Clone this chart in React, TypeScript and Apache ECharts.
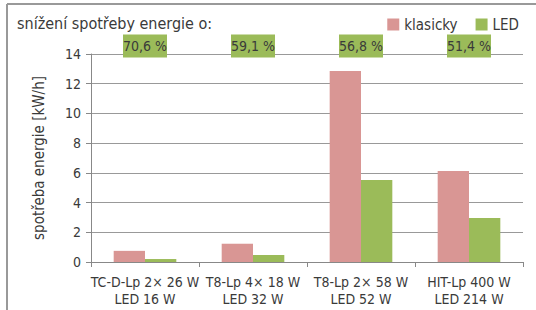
import React, { useEffect, useRef } from "react";
import * as echarts from "echarts";

const categories = ["TC-D-Lp 2× 26 W\nLED 16 W", "T8-Lp 4× 18 W\nLED 32 W", "T8-Lp 2× 58 W\nLED 52 W", "HIT-Lp 400 W\nLED 214 W"];
const klasicky = [0.75, 1.23, 12.85, 6.12];
const led = [0.2, 0.47, 5.52, 2.96];
const savings = ["70,6 %", "59,1 %", "56,8 %", "51,4 %"];
const yTicks = [0, 2, 4, 6, 8, 10, 12, 14];

const FONT = "'Liberation Sans Narrow', 'DejaVu Sans Condensed', Roboto, sans-serif";
const TXT = "#3a3a3a";

export default function App() {
  const ref = useRef<HTMLDivElement>(null);
  useEffect(() => {
    if (!ref.current) return;
    const chart = echarts.init(ref.current, undefined, { renderer: "svg" });
    chart.setOption({
      animation: false,
      backgroundColor: "#fff",
      textStyle: { fontFamily: FONT, color: TXT },
      graphic: [
        { type: "line", shape: { x1: 7, y1: 4, x2: 536, y2: 4 }, style: { stroke: "#999", lineWidth: 2 } },
        { type: "line", shape: { x1: 7, y1: 4, x2: 7, y2: 310 }, style: { stroke: "#999", lineWidth: 2 } },
      ],
      title: {
        text: "snížení spotřeby energie o:",
        left: 12,
        top: 10,
        textStyle: { fontFamily: FONT, fontSize: 16, fontWeight: "normal", color: TXT },
      },
      legend: {
        data: ["klasicky", "LED"],
        right: 12,
        top: 12,
        itemWidth: 12,
        itemHeight: 12,
        itemGap: 18,
        icon: "rect",
        textStyle: { fontFamily: FONT, fontSize: 15, color: TXT },
      },
      grid: { left: 91, right: 13, top: 54, bottom: 48, containLabel: false },
      xAxis: {
        type: "category",
        data: categories,
        axisLine: { lineStyle: { color: "#888" } },
        axisTick: { show: true, length: 5, lineStyle: { color: "#888" } },
        axisLabel: { fontFamily: FONT, fontSize: 14, color: TXT, lineHeight: 17, margin: 11, interval: 0 },
      },
      yAxis: {
        type: "value",
        min: 0,
        max: 14,
        interval: 2,
        name: "spotřeba energie [kW/h]",
        nameLocation: "middle",
        nameGap: 45,
        nameTextStyle: { fontFamily: FONT, fontSize: 15, color: TXT },
        axisLine: { show: true, lineStyle: { color: "#888" } },
        axisTick: { show: true, length: 5, lineStyle: { color: "#888" } },
        axisLabel: {
          fontFamily: FONT,
          fontSize: 14,
          color: TXT,
          margin: 10,
          formatter: (v: number) => (yTicks.includes(v) ? String(v) : ""),
        },
        splitLine: { lineStyle: { color: "#999" } },
      },
      series: [
        {
          name: "klasicky",
          type: "bar",
          data: klasicky,
          itemStyle: { color: "#d99694" },
          barGap: "0%",
          barCategoryGap: "42%",
        },
        {
          name: "LED",
          type: "bar",
          data: led,
          itemStyle: { color: "#9bbb59" },
        },
        {
          name: "savings",
          type: "scatter",
          clip: false,
          data: savings.map((s, i) => [i, 14]),
          symbol: "rect",
          symbolSize: [44, 23],
          symbolOffset: [0, -8],
          itemStyle: { color: "#9bbb59", opacity: 1 },
          z: 5,
          label: {
            show: true,
            position: "inside",
            formatter: (p: any) => savings[p.dataIndex],
            fontFamily: FONT,
            fontSize: 14,
            color: TXT,
          },
          emphasis: { disabled: true },
        },
      ],
    });
    return () => chart.dispose();
  }, []);
  return <div ref={ref} style={{ width: 536, height: 310, position: "absolute", left: 0, top: 0 }} />;
}
